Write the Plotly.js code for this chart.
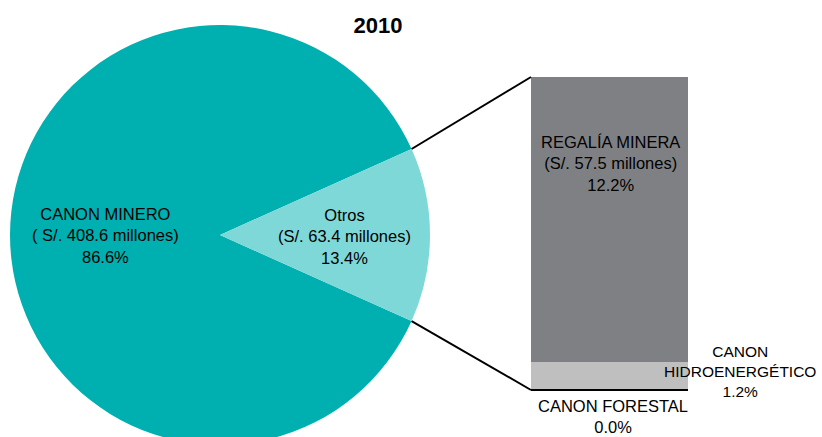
<!DOCTYPE html>
<html><head><meta charset="utf-8">
<script src="https://cdn.plot.ly/plotly-3.0.1.min.js"></script>
<style>html,body{margin:0;padding:0;overflow:hidden;background:#fff}</style>
</head><body><div id="chart" style="width:822px;height:470px"></div>
<script>
// Data
const title = "2010";
const pieLabels = ["CANON MINERO", "Otros"];
const pieValues = [408.6, 63.4];
const piePercents = ["86.6%", "13.4%"];
const barLabels = ["CANON FORESTAL", "CANON HIDROENERGÉTICO", "REGALÍA MINERA"];
const barValues = [0.4, 5.5, 57.5];
const barPercents = ["0.0%", "1.2%", "12.2%"];

const W = 822, H = 470;
const px = x => x / W;
const py = y => (H - y) / H;

// pie geometry (px)
const cx = 220, cy = 235, R = 210;
const total = pieValues[0] + pieValues[1];
const otrosAngle = 360 * pieValues[1] / total;
const rotation = 90 + otrosAngle / 2;

// bar geometry (px)
const bx0 = 531, bx1 = 688, byTop = 77, byBot = 391;

const half = otrosAngle / 2 * Math.PI / 180;
const ex = cx + R * Math.cos(half);
const eyTop = cy - R * Math.sin(half);
const eyBot = cy + R * Math.sin(half);

const font = "Liberation Sans, Arial, sans-serif";

const traces = [
  {
    type: "pie", labels: pieLabels, values: pieValues, sort: false,
    direction: "clockwise", rotation: rotation,
    marker: {colors: ["#00B0B0", "#7ED8D8"], line: {width: 0}},
    textinfo: "none", hoverinfo: "label+value+percent",
    domain: {x: [px(cx - R), px(cx + R)], y: [py(cy + R), py(cy - R)]},
    showlegend: false
  }
];
const barColors = ["#000000", "#BFBFBF", "#7F8084"];
barLabels.forEach((lab, i) => {
  traces.push({
    type: "bar", x: ["Otros"], y: [barValues[i]], name: lab,
    marker: {color: barColors[i], line: {width: 0}},
    xaxis: "x", yaxis: "y", width: 1, showlegend: false, hoverinfo: "name+y"
  });
});

const annFont = {family: font, size: 16.5, color: "#000"};
const annotations = [
  {x: px(105), y: py(235), text: pieLabels[0] + "<br>( S/. " + pieValues[0].toFixed(1) + " millones)<br>" + piePercents[0]},
  {x: px(344), y: py(236), text: pieLabels[1] + "<br>(S/. " + pieValues[1].toFixed(1) + " millones)<br>" + piePercents[1]},
  {x: px(610), y: py(163), text: barLabels[2] + "<br>(S/. " + barValues[2].toFixed(1) + " millones)<br>" + barPercents[2]},
  {x: px(740), y: py(371), text: "CANON<br>HIDROENERGÉTICO<br>" + barPercents[1], font: {family: font, size: 15.5, color: "#000"}},
  {x: px(613), y: py(416), text: barLabels[0] + "<br>" + barPercents[0]},
].map(a => Object.assign({xref: "paper", yref: "paper", showarrow: false, xanchor: "center", yanchor: "middle", font: annFont, align: "center"}, a));

const lineStyle = {color: "#000", width: 2};
const shapes = [
  {type: "line", xref: "paper", yref: "paper", x0: px(ex), y0: py(eyTop), x1: px(bx0), y1: py(byTop), line: lineStyle},
  {type: "line", xref: "paper", yref: "paper", x0: px(ex), y0: py(eyBot), x1: px(bx0), y1: py(byBot - 1), line: lineStyle},
];

const layout = {
  width: W, height: H,
  margin: {l: 0, r: 0, t: 0, b: 0},
  paper_bgcolor: "#fff", plot_bgcolor: "rgba(0,0,0,0)",
  title: {text: "<b>" + title + "</b>", font: {family: font, size: 22, color: "#000"}, x: px(378), xanchor: "center", y: py(25), yanchor: "middle"},
  barmode: "stack", bargap: 0,
  xaxis: {domain: [px(bx0), px(bx1)], visible: false, range: [-0.5, 0.5], fixedrange: true},
  yaxis: {domain: [py(byBot), py(byTop)], visible: false, range: [0, pieValues[1]], fixedrange: true},
  annotations: annotations, shapes: shapes,
  showlegend: false
};

Plotly.newPlot("chart", traces, layout, {displayModeBar: false, staticPlot: true});
</script>
</body></html>
